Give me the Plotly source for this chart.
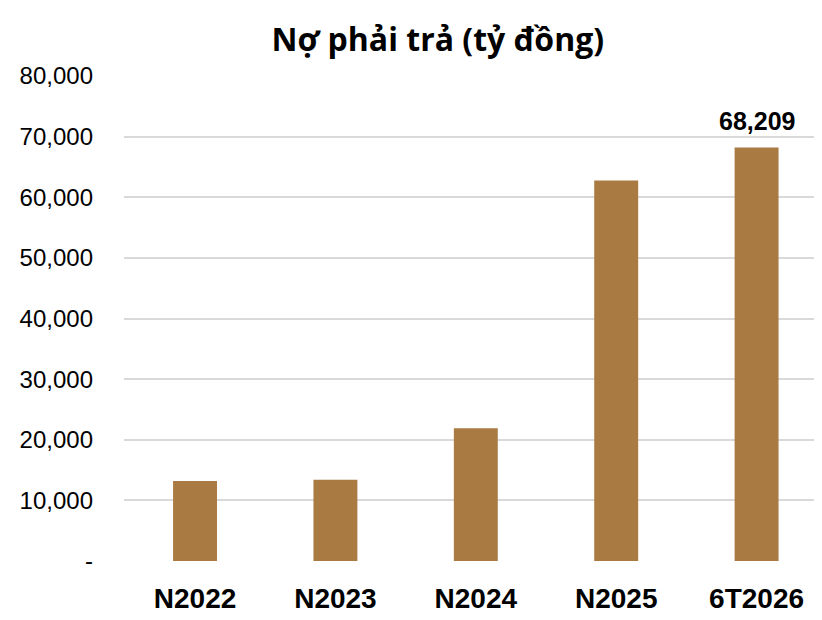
import plotly.graph_objects as go

# Data
categories = ["N2022", "N2023", "N2024", "N2025", "6T2026"]
values = [13200, 13400, 21900, 62750, 68209]
label_text = "68,209"  # only the last bar carries a label

tick_vals = [0, 10000, 20000, 30000, 40000, 50000, 60000, 70000, 80000]
tick_text = ["-", "10,000", "20,000", "30,000", "40,000",
             "50,000", "60,000", "70,000", "80,000"]

bar_color = "#A97A42"
grid_color = "#D9D9D9"

fig = go.Figure()

fig.add_bar(
    x=categories,
    y=values,
    marker=dict(color=bar_color, line=dict(width=0)),
    cliponaxis=False,
)

# value label above the last bar
fig.add_annotation(
    x=categories[-1],
    y=values[-1],
    text=f"<b>{label_text}</b>",
    showarrow=False,
    yanchor="bottom",
    yshift=10,
    font=dict(family="Liberation Sans", size=25, color="black"),
)

# page body adds an 8px margin, so the figure is a little smaller than the window
fig.update_layout(
    width=814,
    height=612,
    paper_bgcolor="white",
    plot_bgcolor="white",
    margin=dict(l=116, r=0, t=68, b=59),
    bargap=0.687,
    showlegend=False,
    title=dict(
        text="<b>Nợ phải trả (tỷ đồng)</b>",
        x=0.528,
        xanchor="center",
        y=0.948,
        yanchor="middle",
        font=dict(family="Open Sans", size=32, color="black"),
    ),
)

fig.update_yaxes(
    range=[0, 80000],
    tickvals=tick_vals,
    ticktext=tick_text,
    showgrid=True,
    gridcolor=grid_color,
    gridwidth=2,
    zeroline=False,
    showline=False,
    ticks="",
    ticklabelstandoff=30,
    tickfont=dict(family="Liberation Sans", size=24, color="black"),
)

# the original plot area runs a bit past the right edge of the picture
fig.update_xaxes(
    range=[-0.506, 4.466],
    showline=False,
    showgrid=False,
    ticks="",
    ticklabelstandoff=18,
    tickfont=dict(family="Liberation Sans", size=28, color="black", weight="bold"),
)

fig.write_html("out.html")
